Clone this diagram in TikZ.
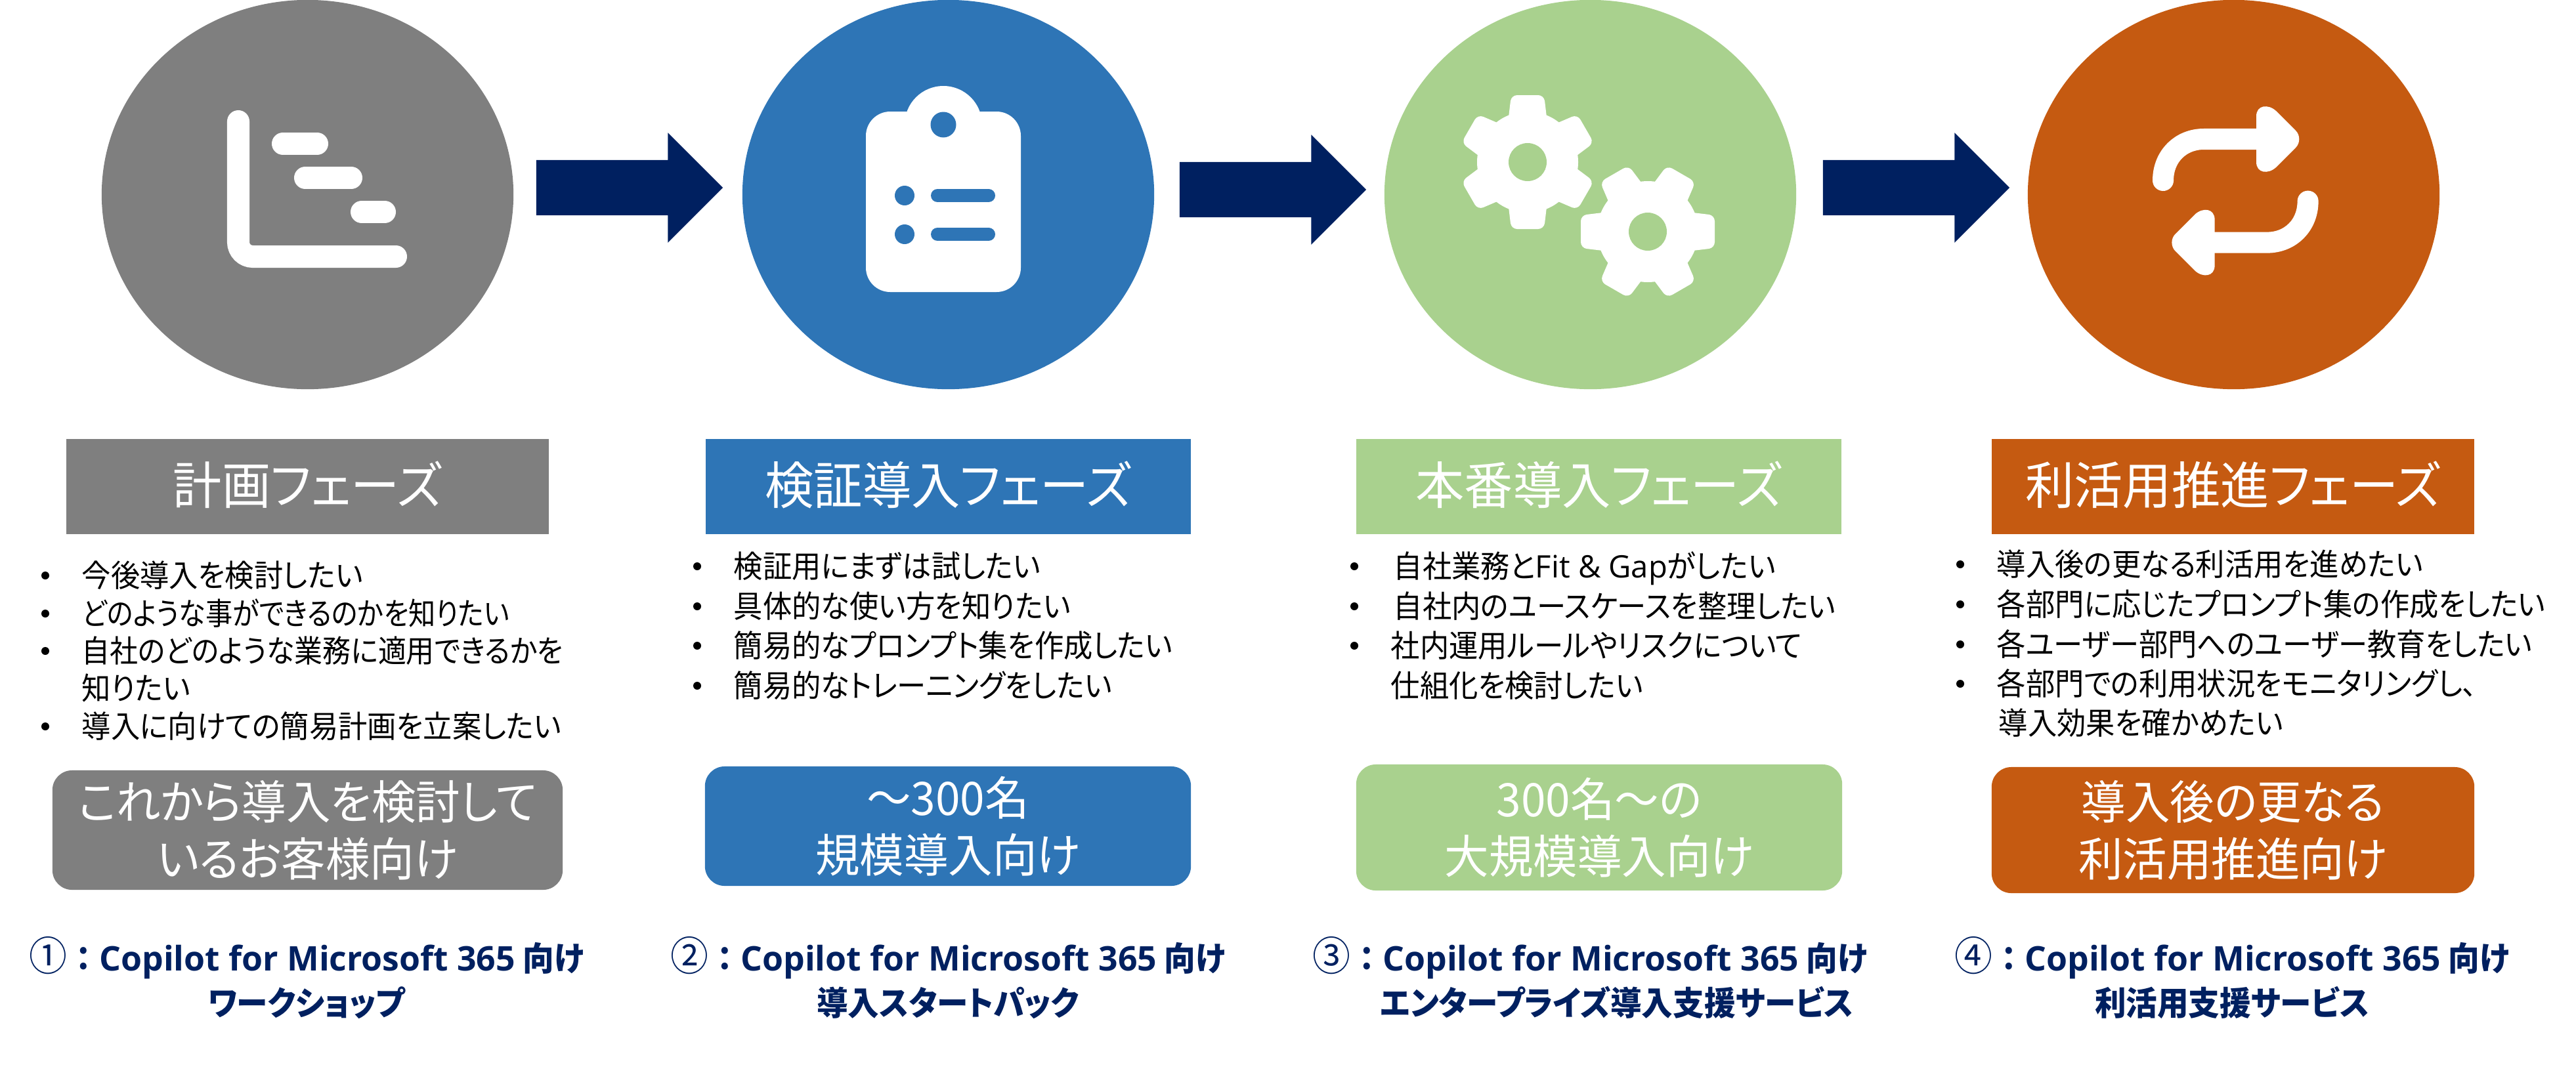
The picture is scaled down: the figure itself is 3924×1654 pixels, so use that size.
\documentclass[tikz,border=0pt]{standalone}
\usepackage{fontspec}
\setmainfont[RawFeature={+palt}]{Noto Sans CJK JP}
\newfontfamily\bodyfont[RawFeature={+palt},FakeStretch=0.94]{Noto Sans CJK JP}
\newfontfamily\headfont[RawFeature={+palt},FakeStretch=0.96]{Noto Sans CJK JP}
\newfontfamily\svcfont[RawFeature={+palt},FakeStretch=0.94]{Noto Sans CJK JP}
\newfontfamily\latinfont{Open Sans}
\usetikzlibrary{shapes.geometric,shapes.arrows}
\definecolor{plangray}{HTML}{7F7F7F}
\definecolor{pocblue}{HTML}{2E75B6}
\definecolor{prodgreen}{HTML}{A9D18E}
\definecolor{useorange}{HTML}{C55A11}
\definecolor{arrownavy}{HTML}{002060}
\def\pxu{0.2845pt}
\newcommand{\copilotline}[1]{{\fontsize{17.5}{17}\selectfont\mdseries #1}\hspace{.25em}：\hspace{.25em}{\fontsize{14.7}{17}\latinfont\bfseries Copilot for Microsoft 365} 向け}
\tikzset{
  phasedisc/.style={ellipse,fill=#1,inner sep=0pt,outer sep=0pt,minimum width=627*\pxu,minimum height=593*\pxu},
  phasearrow/.style={single arrow,anchor=tip,fill=arrownavy,inner xsep=0pt,inner ysep=41.5*\pxu,outer sep=0pt,single arrow tip angle=90,single arrow head extend=41.5*\pxu,minimum width=166*\pxu,minimum height=284*\pxu},
  phasetitle/.style={fill=#1,text=white,inner sep=0pt,minimum height=145*\pxu,text height=19.4pt,text depth=4.3pt,font=\fontsize{22}{26}\headfont},
  targetbox/.style={fill=#1,text=white,rounded corners=30*\pxu,inner sep=0pt,align=center,font=\fontsize{20}{24.8}\headfont},
  bodyline/.style={anchor=west,inner sep=0pt,text height=11.8pt,text depth=1.6pt,font=\fontsize{13.4}{16}\bodyfont},
  svcline/.style={text=arrownavy,inner sep=0pt,text height=12.7pt,text depth=1.7pt,font=\fontsize{14.4}{17}\svcfont\bfseries},
  iconline/.style={draw=white,line cap=round,line width=34*\pxu}
}
\begin{document}
\begin{tikzpicture}[x=0.01cm,y=-0.01cm]
  \useasboundingbox (0,0) rectangle (3924,1654);

  \node[phasedisc=plangray] (discA) at (468.5,296.5) {};
  \node[phasedisc=pocblue] (discB) at (1444.5,296.5) {};
  \node[phasedisc=prodgreen] (discC) at (2422.5,296.5) {};
  \node[phasedisc=useorange] (discD) at (3402.5,296.5) {};

  \node[phasearrow] (arrowA) at (1101,286) {};
  \node[phasearrow] (arrowB) at (2081,289) {};
  \node[phasearrow] (arrowC) at (3061,286) {};

  % chart icon
  \draw[iconline,rounded corners=22*\pxu] (363,185) -- (363,391) -- (603,391);
  \draw[iconline] (431,219) -- (483,219);
  \draw[iconline] (465,271) -- (535,271);
  \draw[iconline] (551,323) -- (586,323);

  % clipboard icon
  \fill[white] (1437,190) circle (59);
  \fill[white,rounded corners=37*\pxu] (1319,170) rectangle (1555,445);
  \fill[pocblue] (1437,190) circle (19.5);
  \foreach \y in {298,357} {
    \fill[pocblue] (1378,\y) circle (15);
    \draw[pocblue,line cap=round,line width=20*\pxu] (1428,\y) -- (1506,\y);
  }

  % gear icon
  \foreach \gx/\gy/\ga in {2327/247/30,2510/353/0} {
    \begin{scope}[shift={(\gx,\gy)}]
      \fill[white] (0,0) circle (77);
      \foreach \k in {0,...,5}
        \fill[white,rotate=\ga+60*\k,rounded corners=9*\pxu] (60,-30) -- (102,-25) -- (102,25) -- (60,30) -- cycle;
      \fill[prodgreen] (0,0) circle (29);
    \end{scope}
  }

  % repeat icon
  \foreach \r in {0,180} {
    \begin{scope}[rotate around={\r:(3405.3,290.8)}]
      \draw[draw=white,line cap=round,line width=32*\pxu] (3295,275) .. controls (3295,238) and (3322,212) .. (3357,212) -- (3450,212);
      \fill[white] (3437,177) .. controls (3437,160) and (3455,158) .. (3467,169) -- (3497,199)
        .. controls (3504,206) and (3504,218) .. (3497,225) -- (3467,255)
        .. controls (3455,266) and (3437,264) .. (3437,247) -- cycle;
    \end{scope}
  }

  \node[phasetitle=plangray,minimum width=735*\pxu] (titleA) at (468.5,741.5) {計画フェーズ};
  \node[phasetitle=pocblue,minimum width=739*\pxu] (titleB) at (1444.5,741.5) {検証導入フェーズ};
  \node[phasetitle=prodgreen,minimum width=739*\pxu] (titleC) at (2435.5,741.5) {本番導入フェーズ};
  \node[phasetitle=useorange,minimum width=735*\pxu] (titleD) at (3401.5,741.5) {利活用推進フェーズ};

  \foreach \y in {877,935,992,1107} \fill (69,\y) circle (6);
  \foreach \y in {863,924,984,1045} \fill (1062,\y) circle (6);
  \foreach \y in {863,924,984} \fill (2063,\y) circle (6);
  \foreach \y in {860,921,982,1042} \fill (2986,\y) circle (6);

  \node[bodyline] (itemAa) at (124,877) {今後導入を検討したい};
  \node[bodyline] (itemAb) at (124,935) {\scalebox{.93}[1]{どのような事ができるのかを知りたい}};
  \node[bodyline] (itemAc) at (124,992) {\scalebox{.97}[1]{自社のどのような業務に適用できるかを}};
  \node[bodyline] (itemAd) at (124,1049) {知りたい};
  \node[bodyline] (itemAe) at (124,1107) {導入に向けての簡易計画を立案したい};

  \node[bodyline] (itemBa) at (1117,863) {検証用にまずは試したい};
  \node[bodyline] (itemBb) at (1117,924) {具体的な使い方を知りたい};
  \node[bodyline] (itemBc) at (1117,984) {簡易的なプロンプト集を作成したい};
  \node[bodyline] (itemBd) at (1117,1045) {簡易的なトレーニングをしたい};

  \node[bodyline] (itemCa) at (2122,863) {自社業務と{\latinfont Fit \& Gap}がしたい};
  \node[bodyline] (itemCb) at (2122,924) {自社内のユースケースを整理したい};
  \node[bodyline] (itemCc) at (2118,984) {社内運用ルールやリスクについて};
  \node[bodyline] (itemCd) at (2118,1045) {仕組化を検討したい};

  \node[bodyline] (itemDa) at (3041,860) {導入後の更なる利活用を進めたい};
  \node[bodyline] (itemDb) at (3041,921) {各部門に応じたプロンプト集の作成をしたい};
  \node[bodyline] (itemDc) at (3041,982) {各ユーザー部門へのユーザー教育をしたい};
  \node[bodyline] (itemDd) at (3041,1042) {各部門での利用状況をモニタリングし、};
  \node[bodyline] (itemDe) at (3044,1102) {導入効果を確かめたい};

  \node[targetbox=plangray,minimum width=777*\pxu,minimum height=182*\pxu] (targetA) at (468.5,1265) {これから導入を検討して\\いるお客様向け};
  \node[targetbox=pocblue,minimum width=740*\pxu,minimum height=182*\pxu] (targetB) at (1444,1259) {～300名\\規模導入向け};
  \node[targetbox=prodgreen,minimum width=740*\pxu,minimum height=192*\pxu] (targetC) at (2436,1261) {300名～の\\大規模導入向け};
  \node[targetbox=useorange,minimum width=735*\pxu,minimum height=192*\pxu] (targetD) at (3401.5,1265) {導入後の更なる\\利活用推進向け};

  \node[svcline] (svcA) at (467,1460) {\copilotline{①}};
  \node[svcline] (nameA) at (467,1528) {ワークショップ};
  \node[svcline] (svcB) at (1444,1460) {\copilotline{②}};
  \node[svcline] (nameB) at (1444,1528) {導入スタートパック};
  \node[svcline] (svcC) at (2422,1460) {\copilotline{③}};
  \node[svcline] (nameC) at (2463,1528) {エンタープライズ導入支援サービス};
  \node[svcline] (svcD) at (3400,1460) {\copilotline{④}};
  \node[svcline] (nameD) at (3400,1528) {利活用支援サービス};
\end{tikzpicture}
\end{document}
